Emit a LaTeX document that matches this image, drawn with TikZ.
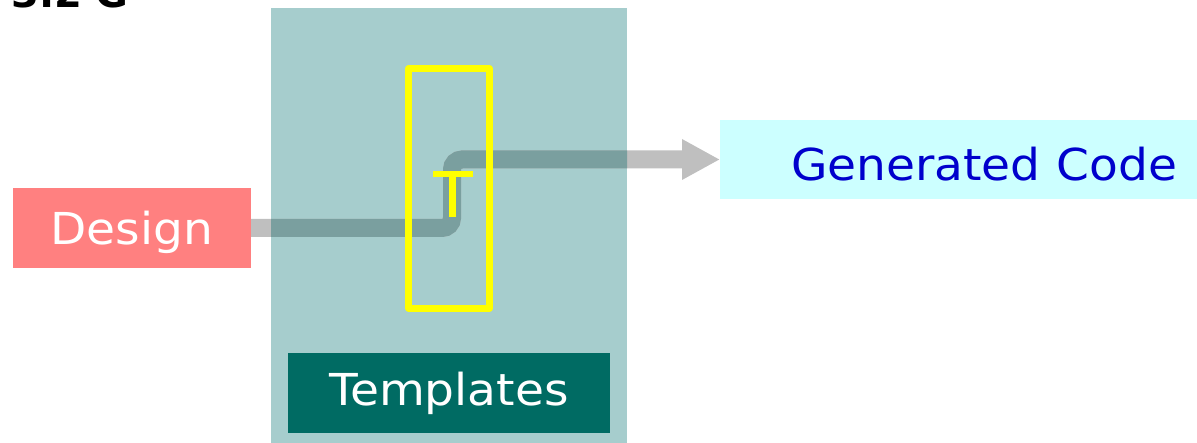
\documentclass[tikz,border=0pt]{standalone}
\usepackage{fontspec}
\setmainfont{DejaVu Sans}
\usetikzlibrary{arrows.meta}
\definecolor{panelc}{HTML}{A6CDCD}
\definecolor{designc}{HTML}{FF8080}
\definecolor{genc}{HTML}{CCFFFF}
\definecolor{gentextc}{HTML}{0000CC}
\definecolor{tplc}{HTML}{006B63}
\definecolor{flowlight}{HTML}{BFBFBF}
\definecolor{flowdark}{HTML}{7A9F9F}
\definecolor{yel}{HTML}{FFFF00}
\newcommand{\wtxt}[1]{\scalebox{1.07}[1]{#1}}
\tikzset{
  box/.style={inner sep=0pt, outer sep=0pt, font=\fontsize{44}{44}\selectfont, text depth=0pt},
  flowline/.style={line width=18pt, rounded corners=10pt},
  yellowline/.style={draw=yel, line width=6.5pt, line join=round}
}
\begin{document}
\begin{tikzpicture}[x=1pt,y=-1pt]
\useasboundingbox (0,0) rectangle (1197,443);
% cut-off title
\begin{scope}
\clip (0,0) rectangle (300,8.5);
\node[anchor=base west, inner sep=0pt, font=\fontsize{40}{40}\selectfont\bfseries] (title) at (11,7.5) {3.2 G};
\end{scope}
% panel
\node[fill=panelc, inner sep=0pt, outer sep=0pt, minimum width=356pt, minimum height=435pt] (panel) at (449,225.5) {};
% boxes
\node[box, fill=designc, text=white, minimum width=238pt, minimum height=80pt, text height=34pt] (design) at (132,228) {\wtxt{Design}};
\node[box, fill=tplc, text=white, minimum width=322pt, minimum height=80pt, text height=25.5pt] (templates) at (449,393) {\wtxt{Templates}};
\node[box, fill=genc, text=gentextc, minimum width=477pt, minimum height=79pt, text height=43pt, text width=437pt, inner xsep=20pt, align=right] (gencode) at (958.5,159.5) {\wtxt{Generated Code}};
% flow connector
\draw[flowline, draw=flowlight, -{Triangle[length=38pt,width=38pt]}] (design.east) -- ++(201,0) |- (gencode.west);
\begin{scope}
\clip (panel.north west) rectangle (panel.south east);
\draw[flowline, draw=flowdark] (design.east) -- ++(201,0) |- (gencode.west);
\end{scope}
% yellow template frame and T
\node[yellowline, inner sep=0pt, minimum width=81pt, minimum height=240pt] (frame) at (449,188.5) {};
\coordinate (tl) at (433,174);
\coordinate (tr) at (473,174);
\coordinate (tb) at (452.5,217);
\draw[yel, line width=6pt] (tl) -- (tr);
\draw[yel, line width=6.5pt] (tb |- tl) -- (tb);
\end{tikzpicture}
\end{document}
